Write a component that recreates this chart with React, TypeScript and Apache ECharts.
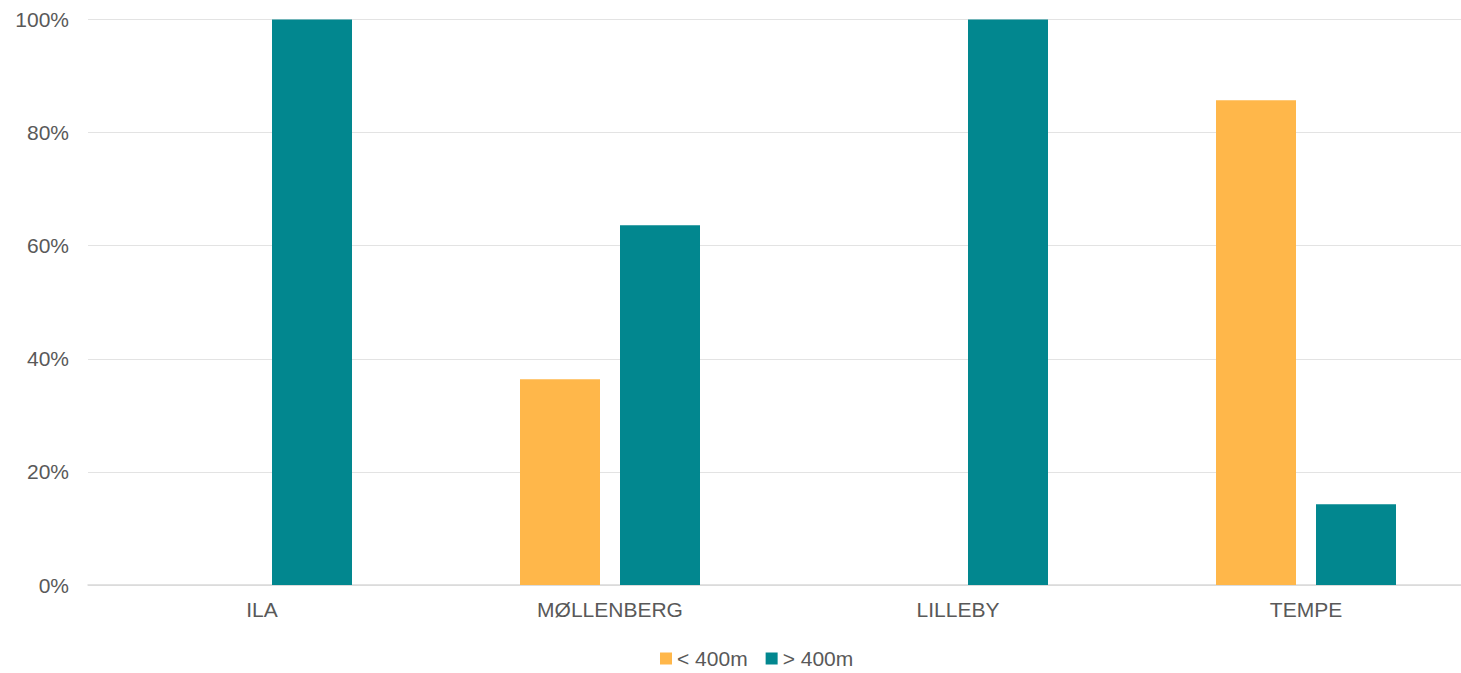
import React, { useEffect, useRef } from "react";
import * as echarts from "echarts";

const categories = ["ILA", "MØLLENBERG", "LILLEBY", "TEMPE"];
const seriesNames = ["< 400m", "> 400m"];
const under400 = [0, 36.4, 0, 85.7];
const over400 = [100, 63.6, 100, 14.3];
const colors = ["#FFB74A", "#02878F"];

export default function App() {
  const ref = useRef<HTMLDivElement>(null);
  useEffect(() => {
    document.body.style.margin = "0";
    const chart = echarts.init(ref.current!, null, { renderer: "svg" });
    const font = "'Liberation Sans', Arial, sans-serif";
    chart.setOption({
      animation: false,
      textStyle: { fontFamily: font },
      grid: { left: 88, top: 19.5, width: 1392, height: 565.5, containLabel: false },
      legend: {
        left: 660,
        top: 648,
        padding: 0,
        itemWidth: 12,
        itemHeight: 12,
        itemGap: 18,
        icon: "rect",
        textStyle: { fontSize: 21, color: "#595959", fontFamily: font },
        data: seriesNames,
      },
      xAxis: {
        type: "category",
        data: categories,
        axisLine: { lineStyle: { color: "#D9D9D9", width: 1.5 } },
        axisTick: { show: false },
        axisLabel: { fontSize: 21, color: "#595959", margin: 14, fontFamily: font },
      },
      yAxis: {
        type: "value",
        min: 0,
        max: 100,
        interval: 20,
        axisLabel: { formatter: "{value}%", fontSize: 21, color: "#595959", margin: 19, fontFamily: font },
        splitLine: { lineStyle: { color: "#E3E3E3", width: 1 } },
        axisLine: { show: false },
        axisTick: { show: false },
      },
      series: [
        {
          name: seriesNames[0],
          type: "bar",
          data: under400,
          barWidth: 80,
          barGap: "25%",
          itemStyle: { color: colors[0] },
        },
        {
          name: seriesNames[1],
          type: "bar",
          data: over400,
          barWidth: 80,
          barGap: "25%",
          itemStyle: { color: colors[1] },
        },
      ],
    });
    return () => chart.dispose();
  }, []);
  return (
    <div style={{ width: 1461, height: 673, overflow: "hidden", position: "relative" }}>
      <div ref={ref} style={{ width: 1500, height: 673 }} />
    </div>
  );
}
